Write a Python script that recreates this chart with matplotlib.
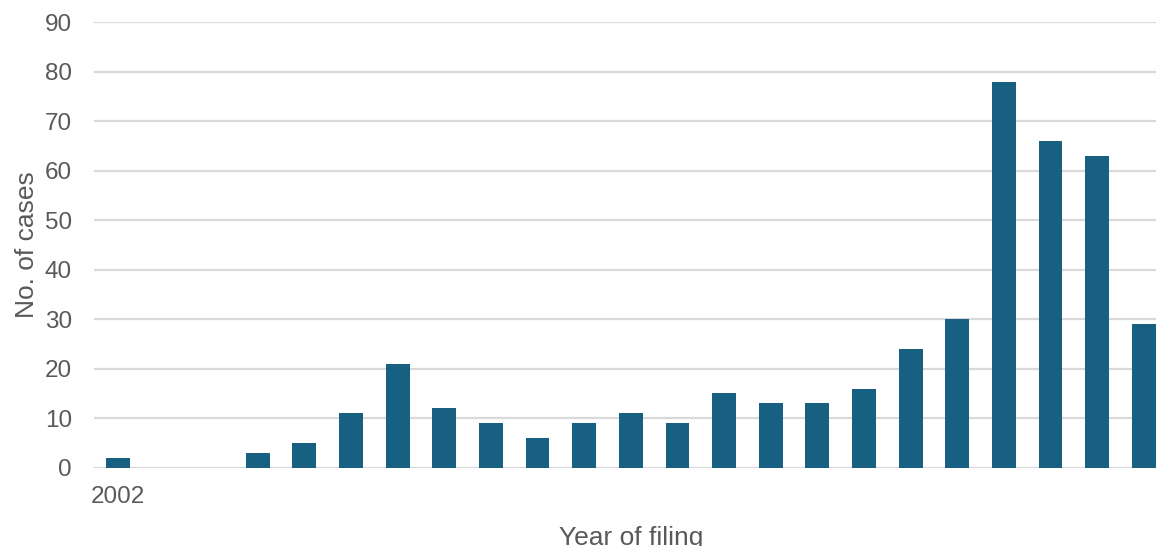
import numpy as np
import matplotlib
matplotlib.use("Agg")
import matplotlib.pyplot as plt

plt.rcParams['font.family'] = ['Liberation Sans', 'DejaVu Sans']

# data
years = list(range(2002, 2025))
cases = [2, 0, 0, 3, 5, 11, 21, 12, 9, 6, 9, 11, 9, 15, 13, 13, 16, 24, 30, 78, 66, 63, 29]
ytick_vals = [0, 10, 20, 30, 40, 50, 60, 70, 80, 90]
xtick_vals = [2002]

bar_col = '#176082'
grid_col = '#d9d9d9'
txt_col = '#595959'

fig = plt.figure(figsize=(11.56, 5.46), dpi=100)
ax = fig.add_axes([94 / 1156, 1 - 467.7 / 546, 1 - 94 / 1156, (467.7 - 22.3) / 546])

ax.bar(years, cases, width=0.51, color=bar_col, zorder=3)

ax.set_xlim(2002 - 0.51, 2024.26)
ax.set_ylim(0, 90)
ax.set_yticks(ytick_vals)
ax.set_xticks(xtick_vals)
ax.yaxis.grid(True, color=grid_col, linewidth=1.6, zorder=0)
ax.set_axisbelow(True)
for s in ax.spines.values():
    s.set_visible(False)
ax.tick_params(axis='both', length=0, labelsize=17.5, labelcolor=txt_col)
ax.tick_params(axis='y', pad=16)
ax.tick_params(axis='x', pad=13)

ax.set_ylabel('No. of cases', fontsize=19, color=txt_col, labelpad=4)
fig.text(631 / 1156, 1 - 545 / 546, 'Year of filing', fontsize=19, color=txt_col,
         ha='center', va='baseline')

fig.savefig('out.png', dpi=100)
